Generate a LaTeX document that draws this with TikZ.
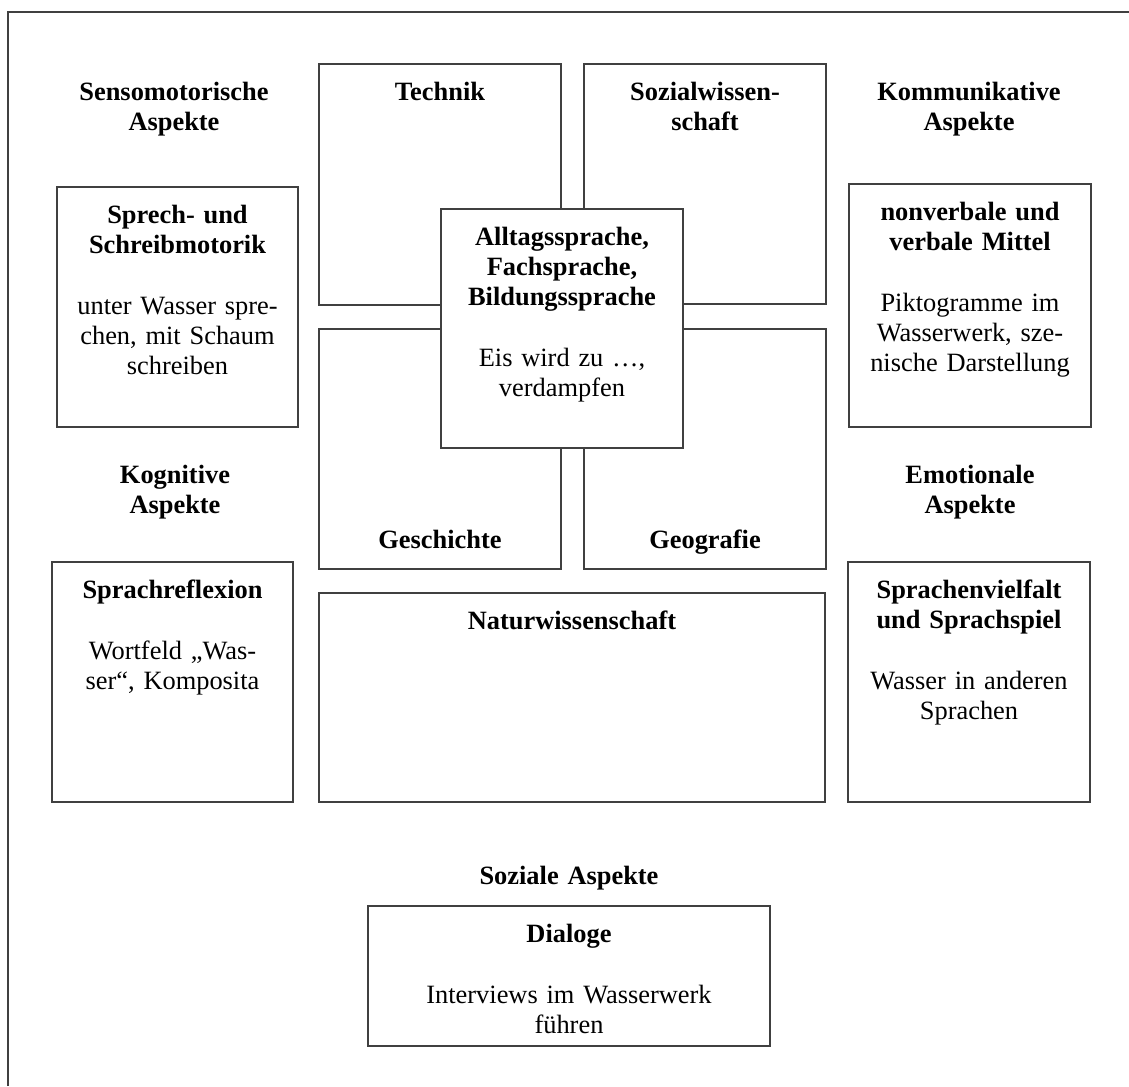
\documentclass[tikz,border=0pt]{standalone}
\usepackage{fontspec}
\setmainfont{Liberation Serif}
\usetikzlibrary{positioning,fit}

\begin{document}
\begin{tikzpicture}[x=0.4545pt,y=-0.4545pt,
        font=\fontsize{12}{13.7}\selectfont,
        feld/.style={draw=black!75,line width=0.6pt,fill=white,inner sep=0pt},
        kopf/.style={align=center,inner sep=0pt,text width=112pt,
                     font=\fontsize{12}{13.7}\selectfont\bfseries},
        breit/.style={kopf,text width=180pt},
        aspekt/.style={kopf,anchor=north},
        fach/.style={inner sep=0pt,anchor=base,
                     font=\fontsize{12}{13.7}\selectfont\bfseries}]
      \fill[white] (0,0) rectangle (1129,1086);
      \useasboundingbox (0,0) rectangle (1129,1086);
      \draw[black!75,line width=0.6pt] (8,1086) -- (8,12) -- (1129,12);
      % Faecher um die Mitte
      \node[feld,fit={(319,64) (561,305)}] (technik) {};
      \node[feld,fit={(584,64) (826,304)}] (sozialwiss) {};
      \node[feld,fit={(319,329) (561,569)}] (geschichte) {};
      \node[feld,fit={(584,329) (826,569)}] (geografie) {};
      \node[feld,fit={(441,209) (683,448)}] (mitte) {};
      \node[feld,fit={(319,593) (825,802)}] (natur) {};
      \node[kopf,below=8.2pt of technik.north] (technikkopf) {Technik};
      \node[kopf,below=8.2pt of sozialwiss.north] (sozialwisskopf) {Sozialwissen-\\schaft};
      \node[fach] (geschichtekopf) at ([yshift=9.5pt]geschichte.south) {Geschichte};
      \node[fach] (geografiekopf) at ([yshift=9.5pt]geografie.south) {Geografie};
      \node[kopf,below=8.2pt of mitte.north] (mittekopf)
        {Alltagssprache,\\Fachsprache,\\Bildungssprache\\[14pt]
         \mdseries Eis wird zu …,\\verdampfen};
      \node[breit,below=8.2pt of natur.north] (naturkopf) {Naturwissenschaft};
      % Aspekte
      \node[aspekt] (sensomot) at (174,82) {Sensomotorische\\Aspekte};
      \node[aspekt] (kommunik) at (969,82) {Kommunikative\\Aspekte};
      \node[aspekt] (kognitiv) at (175,465) {Kognitive\\Aspekte};
      \node[aspekt] (emotional) at (970,465) {Emotionale\\Aspekte};
      \node[aspekt,text width=180pt] (sozialasp) at (569,866) {Soziale Aspekte};
      \node[feld,fit={(57,187) (298,427)}] (sprech) {};
      \node[feld,fit={(849,184) (1091,427)}] (nonverbal) {};
      \node[feld,fit={(52,562) (293,802)}] (reflexion) {};
      \node[feld,fit={(848,562) (1090,802)}] (vielfalt) {};
      \node[feld,fit={(368,906) (770,1046)}] (dialoge) {};
      \node[kopf,below=8.2pt of sprech.north] (sprechkopf)
        {Sprech- und\\Schreibmotorik\\[14pt]
         \mdseries unter Wasser spre-\\chen, mit Schaum\\schreiben};
      \node[kopf,below=8.2pt of nonverbal.north] (nonverbalkopf)
        {nonverbale und\\verbale Mittel\\[14pt]
         \mdseries Piktogramme im\\Wasserwerk, sze-\\nische Darstellung};
      \node[kopf,below=8.2pt of reflexion.north] (reflexionkopf)
        {Sprachreflexion\\[14pt]
         \mdseries Wortfeld „Was-\\ser“, Komposita};
      \node[kopf,below=8.2pt of vielfalt.north] (vielfaltkopf)
        {Sprachenvielfalt\\und Sprachspiel\\[14pt]
         \mdseries Wasser in anderen\\Sprachen};
      \node[breit,below=8.2pt of dialoge.north] (dialogekopf)
        {Dialoge\\[14pt]
         \mdseries Interviews im Wasserwerk\\führen};
    \end{tikzpicture}
\end{document}
